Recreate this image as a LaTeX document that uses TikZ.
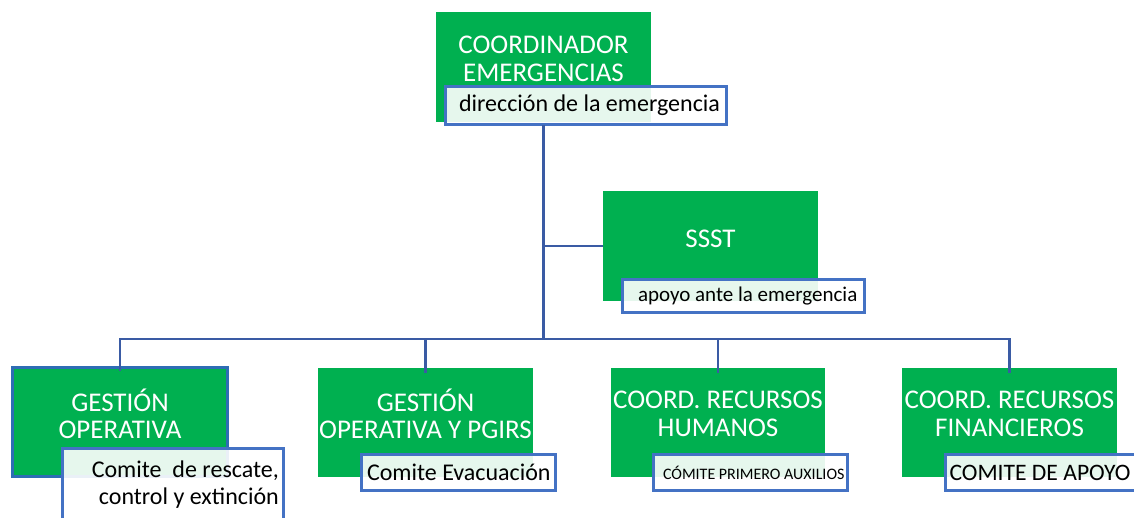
\documentclass[tikz,border=0pt]{standalone}
\usepackage{fontspec}
\setmainfont{Carlito}
\definecolor{grn}{HTML}{00B050}
\definecolor{lblue}{HTML}{4472C4}
\definecolor{connc}{HTML}{3A5BA4}
\definecolor{gob}{HTML}{2E6DB4}
\tikzset{
  gbox/.style={fill=grn, minimum width=215pt, minimum height=110pt, inner sep=0pt, outer sep=0pt},
  ttl/.style={text=white, font=\fontsize{27}{27.5}\selectfont, align=center, inner sep=0pt},
  lbl/.style={draw=lblue, line width=3pt, fill=white, fill opacity=0.9, text opacity=1, draw opacity=1,
              inner ysep=0pt, outer sep=0pt, text=black, anchor=west},
  lbltxt/.style={text=black, inner sep=0pt},
  conn/.style={draw=connc, line width=2.8pt}
}
\begin{document}
\begin{tikzpicture}[x=1pt,y=-1pt]
\useasboundingbox (0,0) rectangle (1134,517);
% green boxes
\node[gbox] (coord) at (543.5,67) {};
\node[gbox] (ssst) at (710.5,246) {};
\node[gbox, draw=gob, line width=3pt, minimum height=109pt] (go) at (120,422) {};
\node[gbox, minimum height=109pt] (gop) at (425.5,422.5) {};
\node[gbox, minimum width=214pt, minimum height=109pt] (crh) at (718,422.5) {};
\node[gbox, minimum height=109pt] (crf) at (1009.5,422.5) {};
% titles
\node[ttl] (coordT) at (543.5,59) {COORDINADOR\\EMERGENCIAS};
\node[ttl] (ssstT) at (710.5,239) {SSST};
\node[ttl] (goT) at (120,414) {GESTIÓN\\OPERATIVA};
\node[ttl] (gopT) at (425.5,414) {GESTIÓN\\OPERATIVA Y PGIRS};
\node[ttl] (crhT) at (718,414) {COORD. RECURSOS\\HUMANOS};
\node[ttl] (crfT) at (1009.5,414) {COORD. RECURSOS\\FINANCIEROS};
% labels
\node[lbl, font=\fontsize{24}{26}\selectfont, inner xsep=13.5pt, minimum height=38pt] (dir) at (445.5,105.5) {\makebox[254pt][l]{dirección de la emergencia}};
\node[lbl, font=\fontsize{21}{23}\selectfont, inner xsep=15.5pt, minimum height=33pt] (ssstL) at (622.5,296) {\makebox[211pt][l]{apoyo ante la emergencia}};
\node[lbl, minimum width=221pt, minimum height=83pt, inner xsep=0pt, anchor=north west] (rescL) at (62.5,448.5) {};
\node[lbltxt, anchor=east, align=right, font=\fontsize{24}{27}\selectfont] (rescT) at (279,484.5) {Comite\ \ de rescate,\\control y extinción};
\node[lbl, font=\fontsize{24}{26}\selectfont, inner xsep=5.5pt, minimum height=36pt] (evac) at (361.5,472.5) {\makebox[183pt][l]{Comite Evacuación}};
\node[lbl, font=\fontsize{16}{18}\selectfont, inner xsep=9.5pt, minimum height=36pt] (cpa) at (653.5,472.5) {\makebox[175pt][l]{CÓMITE PRIMERO AUXILIOS}};
\node[lbl, font=\fontsize{23.6}{25}\selectfont, inner xsep=4pt, minimum height=36pt] (apoyo) at (945.5,472.5) {\makebox[202pt][l]{COMITE DE APOYO}};
% connectors
\coordinate (busC) at (543.5,339);
\draw[conn] (coord.center |- dir.south) -- ([yshift=1.4pt]busC);
\draw[conn] (ssst.west) -- (ssst.west -| coord.center);
\draw[conn] ([yshift=-3pt]go.north) |- (busC) -| ([yshift=-5pt]crf.north);
\draw[conn] ([yshift=-5pt]gop.north) -- (gop.north |- busC);
\draw[conn] ([yshift=-5pt]crh.north) -- (crh.north |- busC);
\end{tikzpicture}
\end{document}
